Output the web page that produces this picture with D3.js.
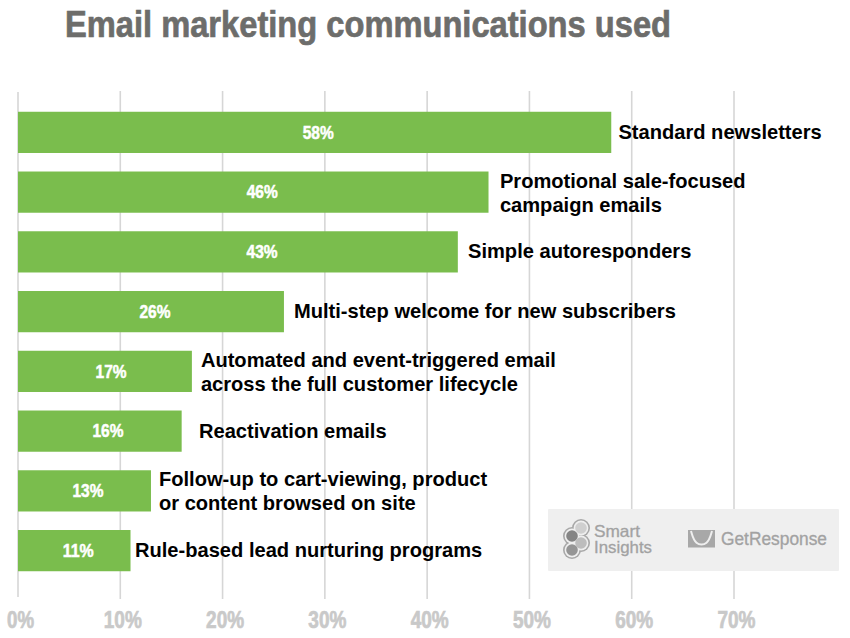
<!DOCTYPE html>
<html>
<head>
<meta charset="utf-8">
<script src="https://cdn.jsdelivr.net/npm/d3@7"></script>
<style>
html,body{margin:0;padding:0;background:#fff}
svg{display:block}
text{font-family:"Liberation Sans",Arial,sans-serif}
</style>
</head>
<body>
<svg id="chart" width="850" height="638"></svg>
<script>
// Share of marketers using each type of email communication (%)
const shares = [58, 46, 43, 26, 17, 16, 13, 11];
const labelLines = [
  ["Standard newsletters"],
  ["Promotional sale-focused", "campaign emails"],
  ["Simple autoresponders"],
  ["Multi-step welcome for new subscribers"],
  ["Automated and event-triggered email", "across the full customer lifecycle"],
  ["Reactivation emails"],
  ["Follow-up to cart-viewing, product", "or content browsed on site"],
  ["Rule-based lead nurturing programs"]
];
const tickValues = [0, 10, 20, 30, 40, 50, 60, 70];
const titleText = "Email marketing communications used";

const svg = d3.select("#chart");
const x = d3.scaleLinear().domain([0, 70]).range([18, 734]);
const y = d3.scaleBand().domain(d3.range(shares.length)).range([102.5, 580.5]).paddingInner(0.31).paddingOuter(0.155);

// Title, condensed to the display width
svg.append("text")
  .attr("x", 65).attr("y", 37)
  .attr("font-size", 37).attr("font-weight", 700).attr("fill", "#6d6d6b")
  .attr("stroke", "#6d6d6b").attr("stroke-width", 0.7)
  .attr("textLength", 606).attr("lengthAdjust", "spacingAndGlyphs")
  .text(titleText);

// Vertical gridlines
svg.append("g").selectAll("line").data(tickValues).join("line")
  .attr("x1", d => x(d)).attr("x2", d => x(d))
  .attr("y1", d => d === 0 ? 92 : 91).attr("y2", d => d === 0 ? 597 : 599)
  .attr("stroke", "#d6d6d6").attr("stroke-width", 1.6);

// Axis labels along the bottom, condensed and nudged right of their gridlines
const axis = d3.axisBottom(x).tickValues(tickValues).tickFormat(d => d + "%").tickSize(0).tickPadding(0);
const axisG = svg.append("g").attr("transform", "translate(2,628)").call(axis);
axisG.select(".domain").remove();
axisG.selectAll("text")
  .attr("y", 0).attr("dy", 0)
  .attr("font-size", 23.5).attr("font-weight", 700).attr("fill", "#c9c9c9")
  .attr("stroke", "#c9c9c9").attr("stroke-width", 0.7)
  .style("font-family", '"Liberation Sans",Arial,sans-serif')
  .attr("textLength", d => d === 0 ? 27 : 38)
  .attr("lengthAdjust", "spacingAndGlyphs");

// Bars
svg.append("g").selectAll("rect").data(shares).join("rect")
  .attr("x", x(0)).attr("y", (d, i) => y(i))
  .attr("width", d => x(d) - x(0)).attr("height", y.bandwidth())
  .attr("fill", "#7abd4d");

// Values inside the bars, placed at a per-row fraction of the bar length
const valuePlacement = [0.506, 0.519, 0.555, 0.515, 0.535, 0.55, 0.526, 0.535];
svg.append("g").selectAll("text").data(shares).join("text")
  .attr("x", (d, i) => x(0) + (x(d) - x(0)) * valuePlacement[i])
  .attr("y", (d, i) => y(i) + y.bandwidth() / 2 + 6.2)
  .attr("text-anchor", "middle").attr("font-size", 17.5).attr("font-weight", 700)
  .attr("fill", "#fff").attr("stroke", "#fff").attr("stroke-width", 0.5)
  .attr("textLength", 31).attr("lengthAdjust", "spacingAndGlyphs")
  .text(d => d + "%");

// Category labels to the right of each bar
const labelGap = [7.2, 11.4, 10.2, 10, 9, 17.3, 8, 4.5];
const lab = svg.append("g").selectAll("text").data(labelLines).join("text")
  .attr("font-size", 20.1).attr("font-weight", 700).attr("fill", "#000");
lab.each(function (lines, i) {
  const t = d3.select(this);
  const cy = y(i) + y.bandwidth() / 2;
  const startY = lines.length === 1 ? cy + 6.5 : cy - 4.5;
  lines.forEach((ln, k) => {
    t.append("tspan").attr("x", x(shares[i]) + labelGap[i])
      .attr("y", startY + k * 24).text(ln);
  });
});

// Sponsor panel
const panel = svg.append("g");
panel.append("rect").attr("x", 548).attr("y", 509).attr("width", 291).attr("height", 62)
  .attr("rx", 1).attr("fill", "#efefef");

// Smart Insights mark: four lobes inside a shared outline
const lobes = [
  { cx: 581, cy: 528, fill: "#cfcfcf" },
  { cx: 572, cy: 536, fill: "#858585" },
  { cx: 581, cy: 543, fill: "#bdbdbd" },
  { cx: 572, cy: 550, fill: "#959595" }
];
const mark = panel.append("g");
mark.selectAll("circle.edge").data(lobes).join("circle").attr("class", "edge")
  .attr("cx", d => d.cx).attr("cy", d => d.cy).attr("r", 9).attr("fill", "#a8a8a8");
mark.selectAll("circle.gap").data(lobes).join("circle").attr("class", "gap")
  .attr("cx", d => d.cx).attr("cy", d => d.cy).attr("r", 7.4).attr("fill", "#efefef");
mark.selectAll("circle.lobe").data(lobes).join("circle").attr("class", "lobe")
  .attr("cx", d => d.cx).attr("cy", d => d.cy).attr("r", 5.8).attr("fill", d => d.fill);

panel.append("text").attr("x", 594).attr("y", 537).attr("font-size", 16.5)
  .attr("fill", "#a2a2a2").attr("stroke", "#a2a2a2").attr("stroke-width", 0.3)
  .attr("textLength", 46).attr("lengthAdjust", "spacingAndGlyphs").text("Smart");
panel.append("text").attr("x", 594).attr("y", 553).attr("font-size", 16.5)
  .attr("fill", "#a2a2a2").attr("stroke", "#a2a2a2").attr("stroke-width", 0.3)
  .attr("textLength", 58).attr("lengthAdjust", "spacingAndGlyphs").text("Insights");

// GetResponse envelope and wordmark
panel.append("rect").attr("x", 688).attr("y", 530).attr("width", 27).attr("height", 17.5).attr("fill", "#a8a8a8");
panel.append("path")
  .attr("d", d3.line().curve(d3.curveBasis)([[691, 531], [695, 545], [708, 545], [712, 531]]))
  .attr("fill", "none").attr("stroke", "#efefef").attr("stroke-width", 2);
panel.append("text").attr("x", 721).attr("y", 545).attr("font-size", 17.5)
  .attr("fill", "#a2a2a2").attr("stroke", "#a2a2a2").attr("stroke-width", 0.3)
  .attr("textLength", 106).attr("lengthAdjust", "spacingAndGlyphs").text("GetResponse");
</script>
</body>
</html>
